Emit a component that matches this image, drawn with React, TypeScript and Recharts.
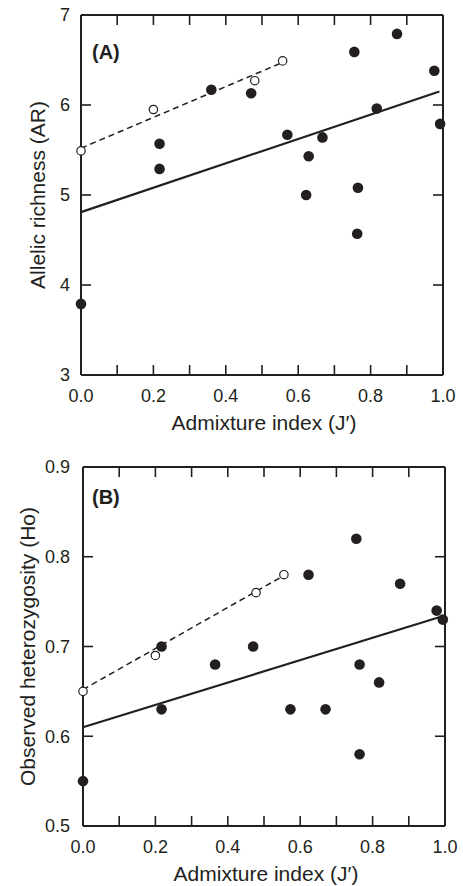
import { ComposedChart, Scatter, XAxis, YAxis } from "recharts";

const INK = "#231f20";
const FONT = "'Liberation Sans', Arial, Helvetica, sans-serif";

// shared x ticks (admixture index J')
const admixTicks = [0, 0.1, 0.2, 0.3, 0.4, 0.5, 0.6, 0.7, 0.8, 0.9, 1.0];

// (A) allelic richness – filled points
const admixA = [0, 0.217, 0.217, 0.36, 0.47, 0.57, 0.629, 0.622, 0.667, 0.755, 0.765, 0.763, 0.817, 0.873, 0.976, 0.992];
const richness = [3.79, 5.57, 5.29, 6.17, 6.13, 5.67, 5.43, 5.0, 5.64, 6.59, 5.08, 4.57, 5.96, 6.79, 6.38, 5.79];
// (A) open points
const admixOpenA = [0, 0.2, 0.48, 0.557];
const richnessOpen = [5.49, 5.95, 6.27, 6.49];
// (A) fitted lines (end points)
const richFitX = [0, 0.99];
const richFitY = [4.81, 6.15];
const richOpenFitX = [0, 0.555];
const richOpenFitY = [5.52, 6.47];
const richTicks = [3, 4, 5, 6, 7];

// (B) observed heterozygosity – filled points
const admixB = [0, 0.217, 0.217, 0.365, 0.47, 0.573, 0.623, 0.67, 0.755, 0.764, 0.764, 0.818, 0.876, 0.977, 0.994];
const hetero = [0.55, 0.7, 0.63, 0.68, 0.7, 0.63, 0.78, 0.63, 0.82, 0.68, 0.58, 0.66, 0.77, 0.74, 0.73];
// (B) open points
const admixOpenB = [0, 0.2, 0.478, 0.555];
const heteroOpen = [0.65, 0.69, 0.76, 0.78];
// (B) fitted lines
const hetFitX = [0, 0.995];
const hetFitY = [0.61, 0.734];
const hetOpenFitX = [0, 0.555];
const hetOpenFitY = [0.652, 0.779];
const hetTicks = [0.5, 0.6, 0.7, 0.8, 0.9];

const zip = (xs: number[], ys: number[]) => xs.map((x, i) => ({ x, y: ys[i] }));

const axisLine = { stroke: INK, strokeWidth: 2 };
const tickLine = { stroke: INK, strokeWidth: 1.6 };
const tickText = { fill: INK, fontSize: 18, fontFamily: FONT };

const Dot = (p: any) => <circle cx={p.cx} cy={p.cy} r={5.3} fill={INK} />;
const Ring = (p: any) => (
  <circle cx={p.cx} cy={p.cy} r={4.2} fill="#fff" stroke={INK} strokeWidth={1.2} />
);
const NoShape = () => <g />;

interface PanelProps {
  tag: string;
  yTitle: string;
  height: number;
  top: number;
  right: number;
  yWidth: number;
  xAxisH: number;
  yTickMargin: number;
  yTitleX: number;
  domain: [number, number];
  yTicks: number[];
  yFmt: (v: number) => string;
  filled: { x: number; y: number }[];
  open: { x: number; y: number }[];
  fit: { x: number; y: number }[];
  openFit: { x: number; y: number }[];
}

// top + right frame: a bottom/left axis pair turned 180° so its plot box
// lands exactly on the main plot box (ticks stay inward)
const Frame = (p: PanelProps) => (
  <ComposedChart
    width={463}
    height={p.height}
    margin={{ top: p.xAxisH, right: p.yWidth, bottom: 0, left: 0 }}
  >
    <XAxis
      xAxisId="b"
      type="number"
      dataKey="x"
      domain={[0, 1]}
      ticks={admixTicks}
      interval={0}
      height={p.top}
      tickSize={-10}
      axisLine={axisLine}
      tickLine={tickLine}
      tick={tickText}
      tickFormatter={() => ""}
    />
    <YAxis
      yAxisId="l"
      type="number"
      dataKey="y"
      domain={p.domain}
      ticks={p.yTicks}
      interval={0}
      width={p.right}
      tickSize={-10}
      axisLine={axisLine}
      tickLine={tickLine}
      tick={tickText}
      tickFormatter={() => ""}
    />
    <Scatter xAxisId="b" yAxisId="l" data={p.filled} shape={NoShape} isAnimationActive={false} />
  </ComposedChart>
);

const Panel = (p: PanelProps) => {
  const plotH = p.height - p.top - p.xAxisH;
  const plotMidY = p.top + plotH / 2;
  const plotMidX = (p.yWidth + (463 - p.right)) / 2 + 2;
  return (
    <div style={{ position: "relative", width: 463, height: p.height }}>
      <ComposedChart
        width={463}
        height={p.height}
        margin={{ top: p.top, right: p.right, bottom: 0, left: 0 }}
      >
        <XAxis
          xAxisId="b"
          type="number"
          dataKey="x"
          domain={[0, 1]}
          ticks={admixTicks}
          interval={0}
          height={p.xAxisH}
          tickSize={-10}
          tickMargin={24}
          axisLine={axisLine}
          tickLine={tickLine}
          tick={tickText}
          tickFormatter={(v: number) => (Math.round(v * 10) % 2 === 0 ? v.toFixed(1) : "")}
        />
        <YAxis
          yAxisId="l"
          type="number"
          dataKey="y"
          domain={p.domain}
          ticks={p.yTicks}
          interval={0}
          width={p.yWidth}
          tickSize={-10}
          tickMargin={p.yTickMargin}
          axisLine={axisLine}
          tickLine={tickLine}
          tick={tickText}
          tickFormatter={p.yFmt}
        />
        <Scatter
          xAxisId="b"
          yAxisId="l"
          data={p.fit}
          line={{ stroke: INK, strokeWidth: 2.2 }}
          shape={NoShape}
          isAnimationActive={false}
        />
        <Scatter
          xAxisId="b"
          yAxisId="l"
          data={p.openFit}
          line={{ stroke: INK, strokeWidth: 1.5, strokeDasharray: "6 4" }}
          shape={NoShape}
          isAnimationActive={false}
        />
        <Scatter xAxisId="b" yAxisId="l" data={p.filled} shape={Dot} isAnimationActive={false} />
        <Scatter xAxisId="b" yAxisId="l" data={p.open} shape={Ring} isAnimationActive={false} />
        <text x={92} y={59} fontSize={20} fontWeight="bold" fill={INK} fontFamily={FONT}>
          {p.tag}
        </text>
        <text
          x={plotMidX}
          y={p.height - p.xAxisH + 55}
          textAnchor="middle"
          fontSize={21}
          fill={INK}
          fontFamily={FONT}
        >
          Admixture index (J′)
        </text>
        <text
          x={p.yTitleX}
          y={plotMidY}
          transform={`rotate(-90 ${p.yTitleX} ${plotMidY})`}
          textAnchor="middle"
          fontSize={21}
          fill={INK}
          fontFamily={FONT}
        >
          {p.yTitle}
        </text>
      </ComposedChart>
      <div
        style={{
          position: "absolute",
          left: 0,
          top: 0,
          width: 463,
          height: p.height,
          transform: "rotate(180deg)",
          transformOrigin: "50% 50%",
          pointerEvents: "none",
        }}
      >
        <Frame {...p} />
      </div>
    </div>
  );
};

export default function App() {
  return (
    <div style={{ position: "absolute", left: 0, top: 0, width: 463, background: "#fff" }}>
      <Panel
        tag="(A)"
        yTitle="Allelic richness (AR)"
        height={445}
        top={15}
        right={20}
        yWidth={81}
        xAxisH={70}
        yTickMargin={21}
        yTitleX={45}
        domain={[3, 7]}
        yTicks={richTicks}
        yFmt={(v) => String(v)}
        filled={zip(admixA, richness)}
        open={zip(admixOpenA, richnessOpen)}
        fit={zip(richFitX, richFitY)}
        openFit={zip(richOpenFitX, richOpenFitY)}
      />
      <Panel
        tag="(B)"
        yTitle="Observed heterozygosity (Ho)"
        height={441}
        top={22}
        right={18}
        yWidth={83}
        xAxisH={60}
        yTickMargin={23}
        yTitleX={35}
        domain={[0.5, 0.9]}
        yTicks={hetTicks}
        yFmt={(v) => v.toFixed(1)}
        filled={zip(admixB, hetero)}
        open={zip(admixOpenB, heteroOpen)}
        fit={zip(hetFitX, hetFitY)}
        openFit={zip(hetOpenFitX, hetOpenFitY)}
      />
    </div>
  );
}
